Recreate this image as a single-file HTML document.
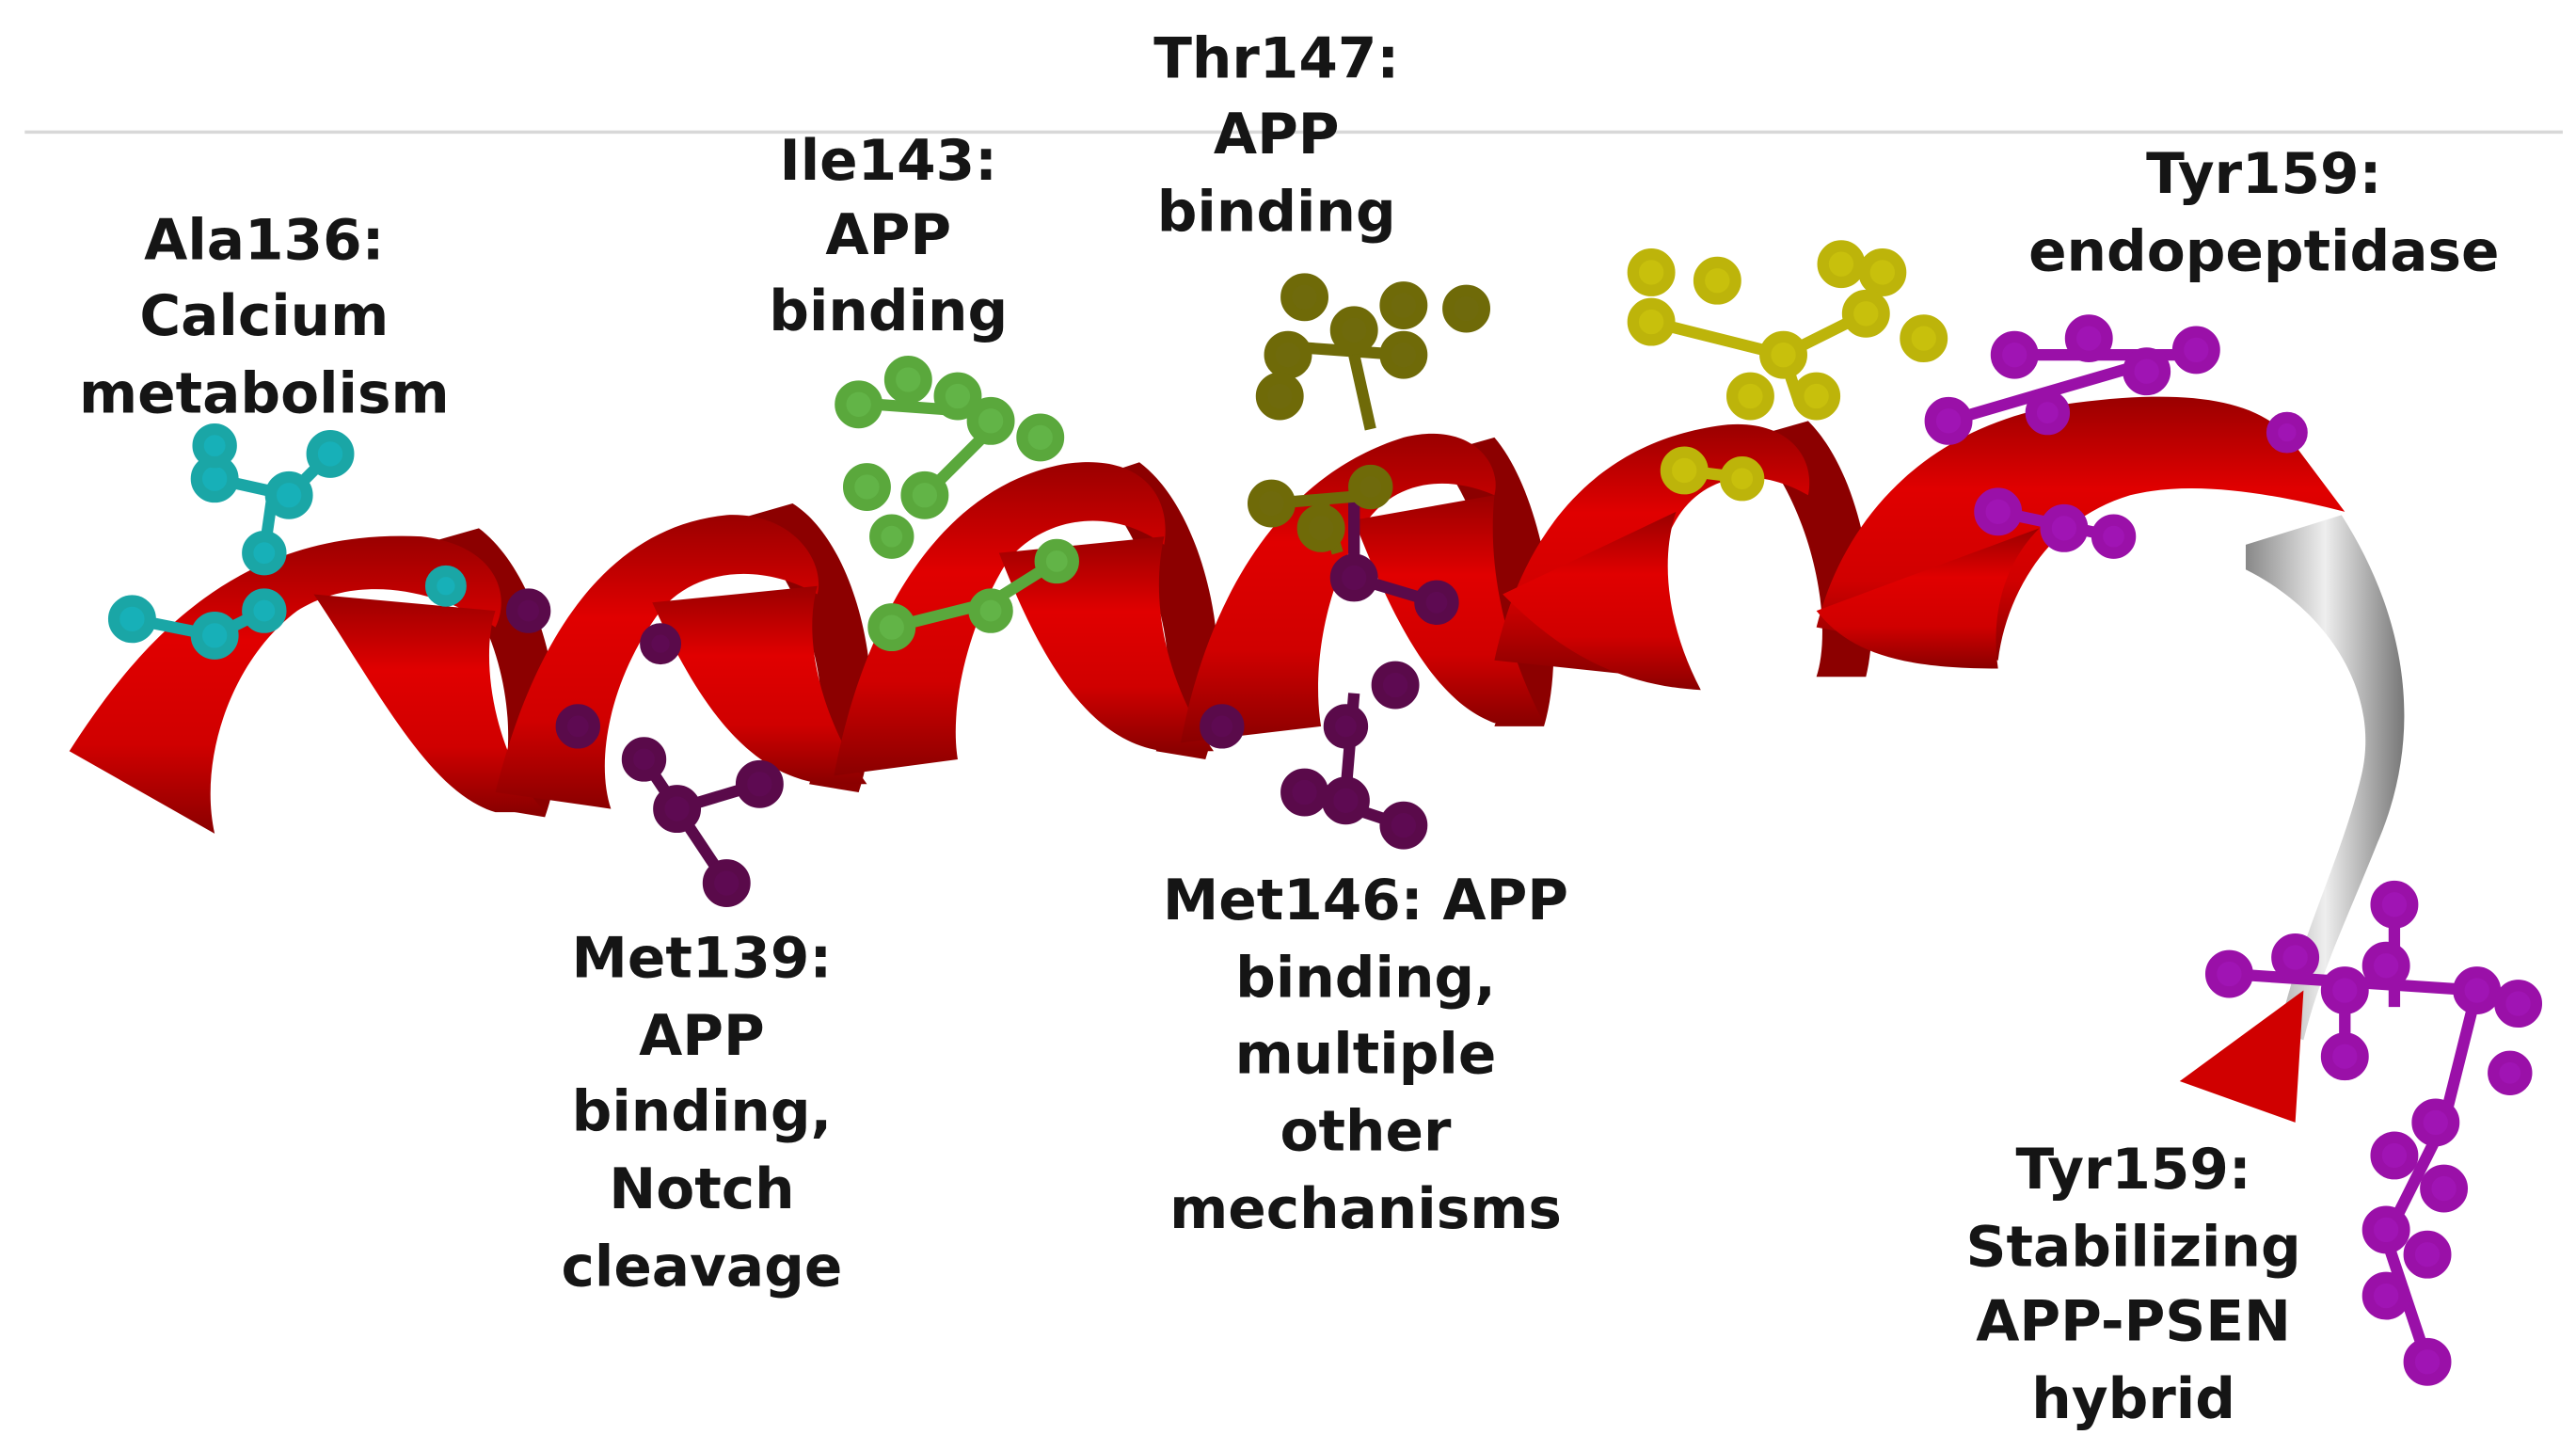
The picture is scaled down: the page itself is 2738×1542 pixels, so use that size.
<!DOCTYPE html>
<html><head><meta charset="utf-8">
<style>
html,body{margin:0;padding:0;background:#fff;}
svg{display:block;}
text{font-family:"DejaVu Sans","Liberation Sans",sans-serif;font-weight:bold;font-size:34px;fill:#151515;text-anchor:middle;}
</style></head>
<body>
<svg width="2738" height="1542" viewBox="0 0 1560 879" preserveAspectRatio="none" xmlns="http://www.w3.org/2000/svg">
<defs>
<linearGradient id="rg" x1="0" y1="0" x2="0" y2="1">
<stop offset="0" stop-color="#9a0000"/><stop offset="0.35" stop-color="#e00000"/><stop offset="0.7" stop-color="#d00000"/><stop offset="1" stop-color="#8a0000"/>
</linearGradient>
<linearGradient id="gg" x1="0" y1="0" x2="1" y2="0">
<stop offset="0" stop-color="#888"/><stop offset="0.5" stop-color="#eee"/><stop offset="1" stop-color="#777"/>
</linearGradient>
</defs>
<line x1="15" y1="80" x2="1552" y2="80" stroke="#d8d8d8" stroke-width="2"/>

<g fill="#8c0000">
<path d="M255,330 C300,360 320,440 300,490 L330,495 C350,440 330,350 290,320 Z"/>
<path d="M445,315 C490,350 510,430 490,475 L520,480 C540,420 520,330 480,305 Z"/>
<path d="M660,290 C700,330 720,410 700,455 L730,460 C750,400 730,310 690,280 Z"/>
<path d="M870,275 C905,320 920,400 905,440 L935,440 C950,390 935,300 905,265 Z"/>
<path d="M1060,265 C1100,310 1110,380 1100,410 L1130,410 C1140,370 1130,290 1095,255 Z"/>
</g>
<g fill="url(#rg)">
<path d="M42,455 C90,380 150,320 255,325 C300,330 310,360 300,380 C270,360 220,345 180,370 C140,400 120,460 130,505 Z"/>
<path d="M190,360 C230,420 260,480 300,492 L330,492 C300,460 290,400 300,370 Z"/>
<path d="M300,480 C320,400 360,320 440,312 C480,310 500,340 495,360 C460,340 420,345 400,370 C370,410 360,460 370,490 Z"/>
<path d="M395,365 C420,420 450,470 500,475 L525,475 C500,440 485,390 495,355 Z"/>
<path d="M505,470 C520,390 560,300 640,282 C690,272 710,300 705,330 C670,305 630,315 610,340 C585,380 575,430 580,460 Z"/>
<path d="M605,335 C630,400 660,450 705,455 L735,455 C710,420 695,370 705,325 Z"/>
<path d="M715,450 C730,370 770,290 850,265 C890,255 910,280 905,300 C870,285 840,295 825,320 C800,360 795,410 800,440 Z"/>
<path d="M820,315 C845,380 870,425 905,438 L935,438 C915,400 900,350 905,300 Z"/>
<path d="M905,400 C920,330 960,270 1040,258 C1080,252 1100,275 1095,300 C1060,280 1030,290 1015,315 C995,350 995,385 1000,410 Z"/>
<path d="M910,360 C940,390 975,415 1030,418 C1010,380 1005,340 1015,310 Z"/>
<path d="M1100,380 C1115,320 1160,260 1250,245 C1320,235 1370,240 1390,270 L1420,310 C1380,300 1330,290 1290,300 C1240,315 1215,360 1210,400 Z"/>
<path d="M1100,370 C1120,395 1150,405 1210,405 C1205,370 1215,340 1235,320 Z"/>
</g>
<path d="M1360,330 L1418,312 C1455,370 1470,440 1440,510 C1420,560 1405,590 1395,630 L1380,625 C1392,570 1418,520 1430,470 C1442,420 1410,370 1360,345 Z" fill="url(#gg)"/>
<path d="M1320,655 L1395,600 L1390,680 Z" fill="#d00000"/>

<g stroke="#1aa6a6" stroke-width="7" fill="#17b0b8">
<line x1="130" y1="290" x2="175" y2="300"/><line x1="175" y1="300" x2="200" y2="275"/><line x1="165" y1="300" x2="160" y2="335"/><line x1="80" y1="375" x2="130" y2="385"/><line x1="130" y1="385" x2="160" y2="370"/>
<circle cx="130" cy="290" r="11"/><circle cx="175" cy="300" r="11"/><circle cx="200" cy="275" r="11"/><circle cx="160" cy="335" r="10"/><circle cx="80" cy="375" r="11"/><circle cx="130" cy="385" r="11"/><circle cx="160" cy="370" r="10"/><circle cx="130" cy="270" r="10"/><circle cx="270" cy="355" r="9"/>
</g>
<g stroke="#5a0a4a" stroke-width="7" fill="#5e0a52">
<line x1="410" y1="490" x2="460" y2="475"/><line x1="410" y1="490" x2="440" y2="535"/><line x1="390" y1="460" x2="410" y2="490"/>
<circle cx="410" cy="490" r="11"/><circle cx="460" cy="475" r="11"/><circle cx="440" cy="535" r="11"/><circle cx="390" cy="460" r="10"/><circle cx="320" cy="370" r="10"/><circle cx="350" cy="440" r="10"/><circle cx="400" cy="390" r="9"/>
<line x1="820" y1="350" x2="870" y2="365"/><line x1="820" y1="350" x2="820" y2="300"/><line x1="820" y1="420" x2="815" y2="480"/><line x1="790" y1="480" x2="850" y2="500"/>
<circle cx="820" cy="350" r="11"/><circle cx="870" cy="365" r="10"/><circle cx="845" cy="415" r="11"/><circle cx="815" cy="440" r="10"/><circle cx="790" cy="480" r="11"/><circle cx="815" cy="485" r="11"/><circle cx="850" cy="500" r="11"/><circle cx="740" cy="440" r="10"/>
</g>
<g stroke="#5aa83c" stroke-width="7" fill="#62b447">
<line x1="530" y1="245" x2="600" y2="250"/><line x1="560" y1="300" x2="600" y2="260"/><line x1="540" y1="380" x2="600" y2="365"/><line x1="600" y1="365" x2="640" y2="340"/>
<circle cx="520" cy="245" r="11"/><circle cx="550" cy="230" r="11"/><circle cx="580" cy="240" r="11"/><circle cx="600" cy="255" r="11"/><circle cx="630" cy="265" r="11"/><circle cx="525" cy="295" r="11"/><circle cx="560" cy="300" r="11"/><circle cx="540" cy="325" r="10"/><circle cx="540" cy="380" r="11"/><circle cx="600" cy="370" r="10"/><circle cx="640" cy="340" r="10"/>
</g>
<g stroke="#6f6a08" stroke-width="7" fill="#6f6a0c">
<line x1="780" y1="210" x2="850" y2="215"/><line x1="820" y1="215" x2="830" y2="260"/><line x1="770" y1="305" x2="830" y2="300"/><line x1="800" y1="300" x2="810" y2="335"/>
<circle cx="790" cy="180" r="11"/><circle cx="820" cy="200" r="11"/><circle cx="850" cy="185" r="11"/><circle cx="888" cy="187" r="11"/><circle cx="780" cy="215" r="11"/><circle cx="850" cy="215" r="11"/><circle cx="775" cy="240" r="11"/><circle cx="770" cy="305" r="11"/><circle cx="800" cy="320" r="11"/><circle cx="830" cy="295" r="10"/>
</g>
<g stroke="#bdb40a" stroke-width="7" fill="#c8c00c">
<line x1="1000" y1="195" x2="1080" y2="215"/><line x1="1080" y1="215" x2="1130" y2="190"/><line x1="1080" y1="215" x2="1090" y2="245"/><line x1="1020" y1="285" x2="1060" y2="290"/>
<circle cx="1000" cy="165" r="11"/><circle cx="1040" cy="170" r="11"/><circle cx="1000" cy="195" r="11"/><circle cx="1080" cy="215" r="11"/><circle cx="1115" cy="160" r="11"/><circle cx="1140" cy="165" r="11"/><circle cx="1130" cy="190" r="11"/><circle cx="1165" cy="205" r="11"/><circle cx="1060" cy="240" r="11"/><circle cx="1100" cy="240" r="11"/><circle cx="1020" cy="285" r="11"/><circle cx="1055" cy="290" r="10"/>
</g>
<g stroke="#9a10a8" stroke-width="7" fill="#a014b4">
<line x1="1180" y1="255" x2="1300" y2="220"/><line x1="1220" y1="215" x2="1330" y2="215"/><line x1="1210" y1="310" x2="1280" y2="325"/>
<circle cx="1220" cy="215" r="11"/><circle cx="1265" cy="205" r="11"/><circle cx="1300" cy="225" r="11"/><circle cx="1330" cy="212" r="11"/><circle cx="1180" cy="255" r="11"/><circle cx="1240" cy="250" r="10"/><circle cx="1210" cy="310" r="11"/><circle cx="1250" cy="320" r="11"/><circle cx="1280" cy="325" r="10"/><circle cx="1385" cy="262" r="9"/>
<line x1="1350" y1="590" x2="1500" y2="600"/><line x1="1450" y1="550" x2="1450" y2="610"/><line x1="1500" y1="600" x2="1480" y2="680"/><line x1="1480" y1="680" x2="1445" y2="750"/><line x1="1445" y1="750" x2="1470" y2="825"/><line x1="1420" y1="600" x2="1420" y2="640"/>
<circle cx="1350" cy="590" r="11"/><circle cx="1390" cy="580" r="11"/><circle cx="1450" cy="548" r="11"/><circle cx="1420" cy="600" r="11"/><circle cx="1445" cy="585" r="11"/><circle cx="1500" cy="600" r="11"/><circle cx="1525" cy="608" r="11"/><circle cx="1420" cy="640" r="11"/><circle cx="1475" cy="680" r="11"/><circle cx="1450" cy="700" r="11"/><circle cx="1480" cy="720" r="11"/><circle cx="1445" cy="745" r="11"/><circle cx="1470" cy="760" r="11"/><circle cx="1445" cy="785" r="11"/><circle cx="1470" cy="825" r="11"/><circle cx="1520" cy="650" r="10"/>
</g>

<text x="160" y="157">Ala136:</text><text x="160" y="203">Calcium</text><text x="160" y="250">metabolism</text>
<text x="538" y="109">Ile143:</text><text x="538" y="154">APP</text><text x="538" y="200">binding</text>
<text x="773" y="47">Thr147:</text><text x="773" y="93">APP</text><text x="773" y="140">binding</text>
<text x="1371" y="117">Tyr159:</text><text x="1371" y="164">endopeptidase</text>
<text x="425" y="592">Met139:</text><text x="425" y="639">APP</text><text x="425" y="685">binding,</text><text x="425" y="732">Notch</text><text x="425" y="779">cleavage</text>
<text x="827" y="557">Met146: APP</text><text x="827" y="604">binding,</text><text x="827" y="650">multiple</text><text x="827" y="697">other</text><text x="827" y="744">mechanisms</text>
<text x="1292" y="720">Tyr159:</text><text x="1292" y="767">Stabilizing</text><text x="1292" y="812">APP-PSEN</text><text x="1292" y="859">hybrid</text>
</svg>
</body></html>
